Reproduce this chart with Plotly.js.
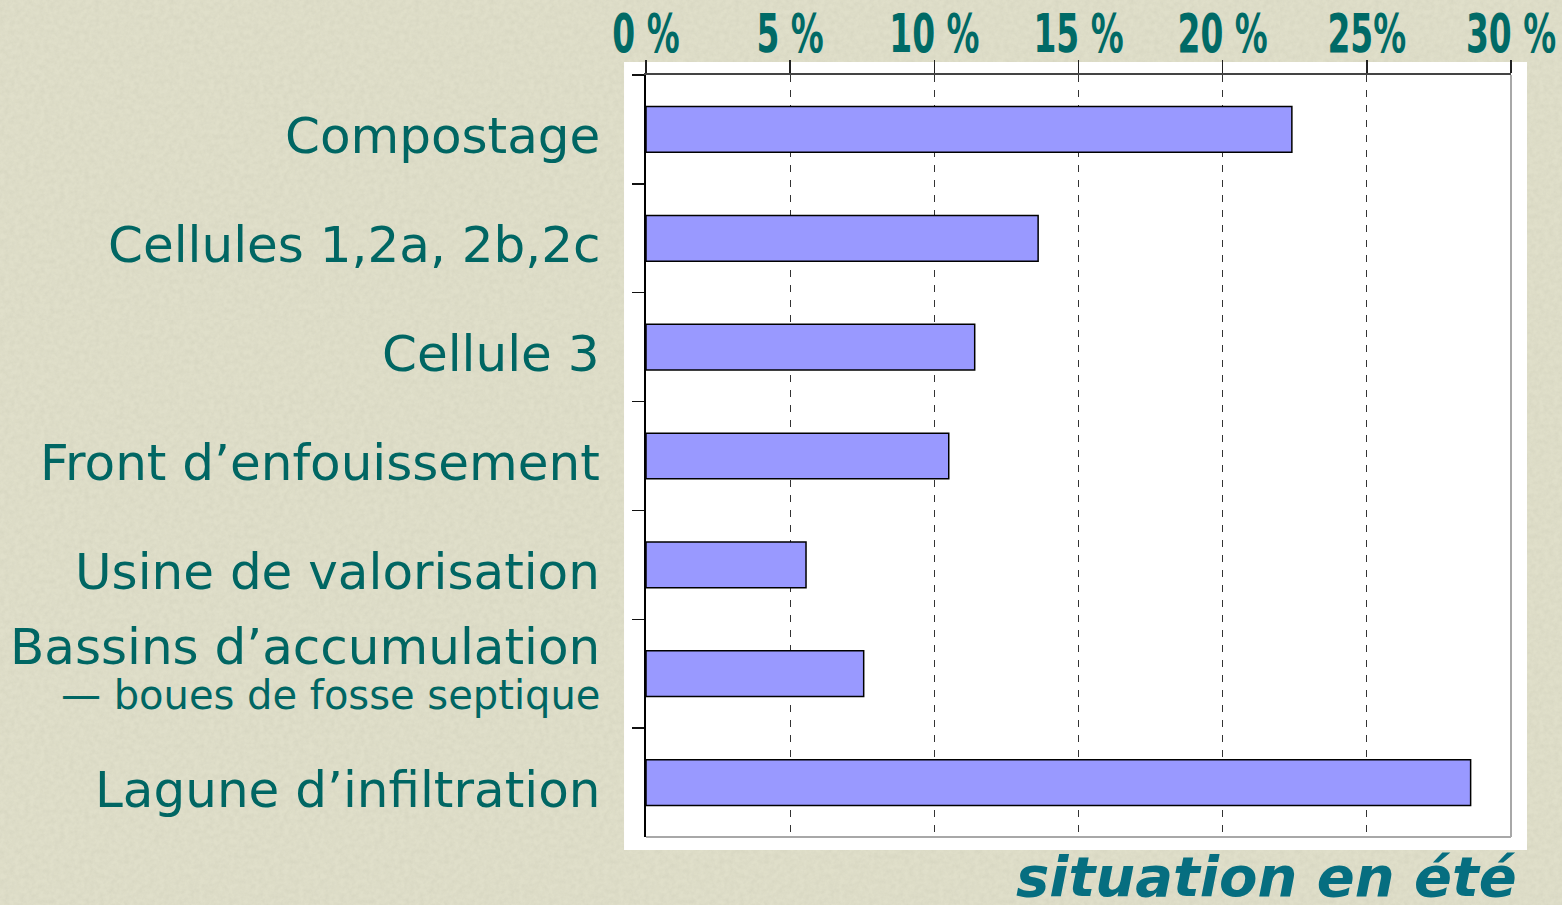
<!DOCTYPE html>
<html>
<head>
<meta charset="utf-8">
<script src="https://cdn.plot.ly/plotly-3.0.1.min.js"></script>
<style>
  html, body { margin: 0; padding: 0; }
  body {
    background-color: #e0dfca;
    background-image: url("data:image/svg+xml;utf8,<svg xmlns='http://www.w3.org/2000/svg' width='320' height='320'><filter id='n'><feTurbulence type='fractalNoise' baseFrequency='0.2' numOctaves='3' stitchTiles='stitch'/><feColorMatrix values='0 0 0 0 0.45 0 0 0 0 0.45 0 0 0 0 0.35 0.3 0 0 0 -0.08'/></filter><rect width='100%' height='100%' filter='url(%23n)'/></svg>");
  }
  #chart { width: 1562px; height: 905px; }
</style>
</head>
<body>
<div id="chart"></div>
<script>
// ---- data ----
const categories = [
  "Compostage",
  "Cellules 1,2a, 2b,2c",
  "Cellule 3",
  "Front d’enfouissement",
  "Usine de valorisation",
  "Bassins d’accumulation",
  "Lagune d’infiltration"
];
const subLabels = ["", "", "", "", "", "— boues de fosse septique", ""];
const values = [22.4, 13.6, 11.4, 10.5, 5.55, 7.55, 28.6];
const tickValues = [0, 5, 10, 15, 20, 25, 30];
const tickLabels = ["0 %", "5 %", "10 %", "15 %", "20 %", "25%", "30 %"];
const chartTitle = "situation en été";

// ---- styles ----
const teal = "#006663";
const labelFont = { family: "DejaVu Sans, Verdana, sans-serif", size: 50, color: teal };
const subFont = { family: "DejaVu Sans, Verdana, sans-serif", size: 40, color: teal };
const tickScaleX = 0.69; // the reference uses a strongly condensed face

const trace = {
  type: "bar",
  orientation: "h",
  y: categories,
  x: values,
  marker: { color: "#9999ff", line: { color: "#000000", width: 1.5 } },
  hoverinfo: "x+y"
};

const annotations = [];
categories.forEach((c, i) => {
  const hasSub = subLabels[i] !== "";
  annotations.push({
    xref: "paper", yref: "y", x: 0, y: i,
    xanchor: "right", yanchor: "middle",
    xshift: -44, yshift: hasSub ? 27 : -7,
    text: c, showarrow: false, font: labelFont
  });
  if (hasSub) {
    annotations.push({
      xref: "paper", yref: "y", x: 0, y: i,
      xanchor: "right", yanchor: "middle",
      xshift: -44, yshift: -21,
      text: subLabels[i], showarrow: false, font: subFont
    });
  }
});
annotations.push({
  xref: "paper", yref: "paper", x: 1, y: 0,
  xanchor: "right", yanchor: "top", xshift: 8, yshift: -5,
  text: "<b><i>" + chartTitle + "</i></b>", showarrow: false,
  font: { family: "DejaVu Sans, Verdana, sans-serif", size: 56, color: "#066e80" }
});

const layout = {
  width: 1562, height: 905,
  margin: { l: 646, r: 51, t: 75, b: 68, pad: 0 },
  paper_bgcolor: "rgba(0,0,0,0)",
  plot_bgcolor: "rgba(0,0,0,0)",
  showlegend: false,
  bargap: 0.58,
  xaxis: {
    side: "top",
    range: [0, 30],
    tickvals: tickValues,
    ticktext: tickLabels,
    ticks: "outside", ticklen: 13, tickwidth: 1.5, tickcolor: "#222",
    tickfont: { family: "DejaVu Sans Condensed, DejaVu Sans, sans-serif", weight: "bold", size: 53, color: "#006a66" },
    ticklabelstandoff: -13,
    ticklabeloverflow: "allow",
    showline: true, linecolor: "#444", linewidth: 2,
    showgrid: true, gridcolor: "#333", gridwidth: 1, griddash: "7px,8px",
    zeroline: false, fixedrange: true
  },
  yaxis: {
    type: "category",
    categoryorder: "array", categoryarray: categories,
    autorange: "reversed",
    tickson: "boundaries",
    ticks: "outside", ticklen: 12, tickwidth: 1.5, tickcolor: "#111",
    showticklabels: false,
    showline: true, linecolor: "#000", linewidth: 2,
    showgrid: false, zeroline: false, fixedrange: true
  },
  shapes: [
    { type: "rect", xref: "paper", yref: "paper", x0: -0.0254, x1: 1.0185, y0: -0.0171, y1: 1.0171,
      fillcolor: "#ffffff", line: { width: 0 }, layer: "below" },
    { type: "line", xref: "paper", yref: "paper", x0: 1, x1: 1, y0: 0, y1: 1,
      line: { color: "#a8a8a8", width: 2 } },
    { type: "line", xref: "paper", yref: "paper", x0: 0, x1: 1, y0: 0, y1: 0,
      line: { color: "#a8a8a8", width: 2 } }
  ],
  annotations: annotations
};

Plotly.newPlot("chart", [trace], layout, { displayModeBar: false, staticPlot: true }).then(gd => {
  // condense the top tick labels horizontally around their own anchor point
  gd.querySelectorAll(".xtick text").forEach(t => {
    const cx = parseFloat(t.getAttribute("x")) || 0;
    const tr = t.getAttribute("transform") || "";
    t.setAttribute("transform",
      tr + " translate(" + cx + ",0) scale(" + tickScaleX + ",1) translate(" + (-cx) + ",0)");
  });
});
</script>
</body>
</html>
